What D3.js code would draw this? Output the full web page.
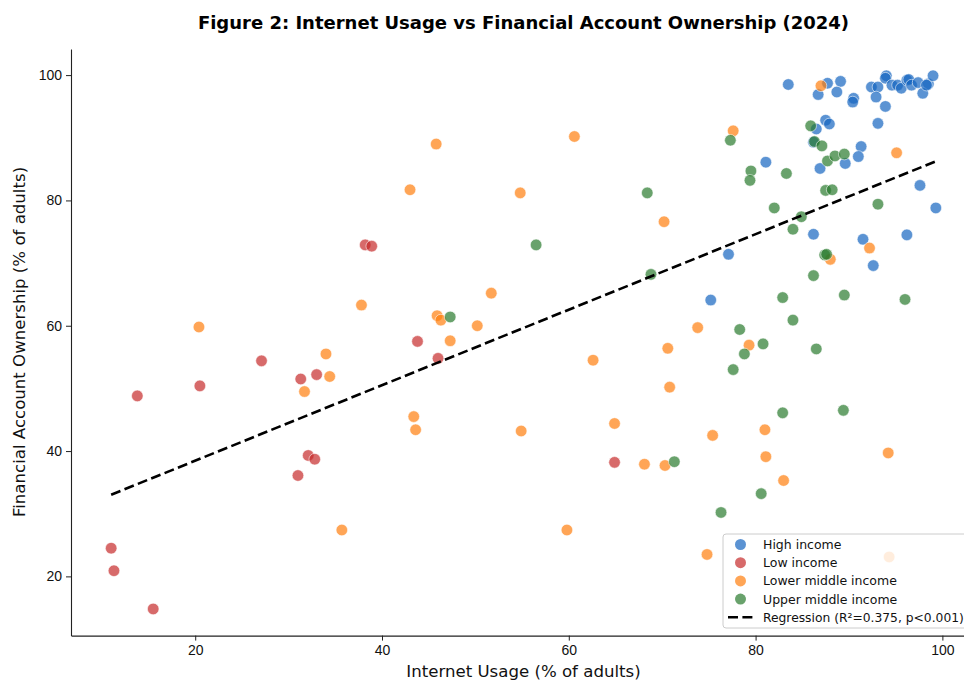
<!DOCTYPE html>
<html>
<head>
<meta charset="utf-8">
<script src="https://cdn.jsdelivr.net/npm/d3@7"></script>
<style>
  body { margin: 0; background: #fff; }
  svg { font-family: "DejaVu Sans", sans-serif; }
  .tick text { font-size: 14px; fill: #111; }
  .tick line, .domain { stroke: #222; }
</style>
</head>
<body>
<div id="chartArea"></div>
<script>
// data (internet usage %, account ownership %) per income group

const groups = ["High income", "Low income", "Lower middle income", "Upper middle income"];

const highIncome = [
  [75.2, 64.1], [81.1, 86.1], [77.1, 71.4], [86.2, 74.6], [91.5, 73.8], [92.6, 69.6],
  [96.2, 74.5], [97.6, 82.4], [99.3, 78.8], [91.3, 88.6], [91.0, 87.0], [89.6, 85.9],
  [86.9, 85.1], [93.1, 92.3], [87.5, 92.8], [87.9, 92.2], [86.5, 91.4], [86.2, 89.3],
  [83.5, 98.5], [87.7, 98.7], [89.1, 99.0], [86.7, 96.9], [88.7, 97.3], [90.5, 96.3],
  [90.4, 95.7], [92.4, 98.1], [93.1, 98.1], [92.9, 96.5], [93.9, 95.0], [94.0, 99.9],
  [93.9, 99.5], [94.6, 98.4], [95.2, 98.4], [95.6, 97.9], [96.2, 99.2], [96.4, 99.3],
  [96.7, 98.4], [97.4, 98.8], [98.5, 98.6], [97.9, 97.1], [99.0, 99.9], [98.3, 98.4]
];

const lowIncome = [
  [11.0, 24.5], [11.3, 20.9], [15.5, 14.8], [32.1, 39.3], [32.8, 38.7], [31.0, 36.1],
  [13.8, 48.8], [20.5, 50.4], [27.1, 54.4], [31.3, 51.5], [33.0, 52.2], [38.2, 72.9],
  [38.9, 72.7], [43.8, 57.5], [46.0, 54.8], [64.9, 38.2]
];

const lowerMiddleIncome = [
  [20.4, 59.8], [37.8, 63.3], [34.0, 55.5], [34.4, 51.9], [31.7, 49.5], [35.7, 27.4],
  [45.8, 89.0], [60.6, 90.2], [43.0, 81.7], [54.8, 81.2], [51.7, 65.2], [45.9, 61.6],
  [46.3, 60.9], [50.2, 60.0], [47.3, 57.6], [62.6, 54.5], [43.4, 45.5], [43.6, 43.4],
  [54.9, 43.2], [64.9, 44.4], [59.8, 27.4], [73.8, 59.7], [70.6, 56.4], [70.8, 50.2],
  [79.3, 56.9], [75.4, 42.5], [81.0, 43.4], [68.1, 37.9], [70.3, 37.7], [81.1, 39.1],
  [94.2, 39.7], [83.0, 35.3], [74.8, 23.5], [94.3, 23.1], [77.6, 91.1], [95.1, 87.6],
  [92.2, 72.4], [88.0, 70.6], [87.0, 98.3], [70.2, 76.6]
];

const upperMiddleIncome = [
  [56.5, 72.9], [47.3, 61.4], [71.3, 38.3], [80.6, 33.2], [76.3, 30.2], [68.4, 81.2],
  [68.8, 68.2], [82.9, 64.5], [89.5, 64.9], [96.0, 64.2], [84.0, 60.9], [78.3, 59.4],
  [80.8, 57.1], [78.8, 55.5], [86.5, 56.3], [77.6, 53.0], [82.9, 46.1], [89.4, 46.5],
  [77.3, 89.6], [79.5, 84.7], [79.4, 83.2], [83.3, 84.3], [85.9, 91.9], [86.3, 89.4],
  [87.1, 88.7], [87.7, 86.3], [88.5, 87.1], [89.5, 87.4], [87.5, 81.6], [88.2, 81.7],
  [82.0, 78.8], [84.0, 75.4], [84.9, 77.4], [93.1, 79.4], [87.4, 71.3], [87.6, 71.4],
  [86.2, 68.0]
];

const groupColors = ["#1565c0", "#c62b2b", "#ff7f0e", "#2a7a2e"];
const xTicks = [20, 40, 60, 80, 100];
const yTicks = [20, 40, 60, 80, 100];

// fitted line
const regSlope = 0.6026;
const regIntercept = 26.41;
const regRange = [11.0, 99.3];
const regressionLabel = "Regression (R\u00b2=0.375, p<0.001)";

// chart

const chart = {};
chart.width = 964;
chart.height = 680;

chart.svg = d3
  .select("#chartArea")
  .append("svg")
  .attr("width", chart.width)
  .attr("height", chart.height);

var x = d3.scaleLinear([6.7, 103.6], [71, 976]);
var y = d3.scaleLinear([10.55, 104.15], [635.6, 49.1]);

chart.svg
  .append("text")
  .attr("x", 523.5)
  .attr("y", 29)
  .attr("text-anchor", "middle")
  .style("font-size", "18px")
  .style("font-weight", "bold")
  .text("Figure 2: Internet Usage vs Financial Account Ownership (2024)");

chart.svg
  .append("g")
  .attr("transform", "translate(0," + y.range()[0] + ")")
  .call(d3.axisBottom(x).tickValues(xTicks).tickSize(5).tickSizeOuter(0).tickPadding(4));

chart.svg
  .append("g")
  .attr("transform", "translate(" + x.range()[0] + ",0)")
  .call(d3.axisLeft(y).tickValues(yTicks).tickSize(5).tickSizeOuter(0).tickPadding(4));

chart.svg.selectAll(".domain").attr("stroke-width", 1.1);

chart.svg
  .append("text")
  .attr("x", 523.5)
  .attr("y", 677)
  .attr("text-anchor", "middle")
  .style("font-size", "16.6px")
  .style("fill", "#111")
  .text("Internet Usage (% of adults)");

chart.svg
  .append("text")
  .attr("transform", "rotate(-90)")
  .attr("x", -342)
  .attr("y", 25)
  .attr("text-anchor", "middle")
  .style("font-size", "16.6px")
  .style("fill", "#111")
  .text("Financial Account Ownership (% of adults)");

// points

const allGroups = [highIncome, lowIncome, lowerMiddleIncome, upperMiddleIncome];

allGroups.forEach((pts, gi) => {
  chart.svg
    .append("g")
    .selectAll("circle")
    .data(pts)
    .join("circle")
    .attr("cx", (d) => x(d[0]))
    .attr("cy", (d) => y(d[1]))
    .attr("r", 5.8)
    .attr("fill", groupColors[gi])
    .attr("fill-opacity", 0.7)
    .attr("stroke", "#fff")
    .attr("stroke-width", 0.8)
    .attr("stroke-opacity", 0.7);
});

// regression line

chart.svg
  .append("line")
  .attr("x1", x(regRange[0]))
  .attr("y1", y(regIntercept + regSlope * regRange[0]))
  .attr("x2", x(regRange[1]))
  .attr("y2", y(regIntercept + regSlope * regRange[1]))
  .attr("stroke", "#000")
  .attr("stroke-width", 2.6)
  .attr("stroke-dasharray", "10,4.4");

// legend

const legend = chart.svg.append("g").attr("transform", "translate(723,534)");

legend
  .append("rect")
  .attr("width", 262)
  .attr("height", 94)
  .attr("rx", 3)
  .attr("fill", "#fff")
  .attr("fill-opacity", 0.8)
  .attr("stroke", "#ccc");

groups.forEach((g, i) => {
  legend
    .append("circle")
    .attr("cx", 17.5)
    .attr("cy", 10.5 + i * 18.2)
    .attr("r", 5.5)
    .attr("fill", groupColors[i])
    .attr("fill-opacity", 0.7);
  legend
    .append("text")
    .attr("x", 40)
    .attr("y", 15 + i * 18.2)
    .style("font-size", "12.5px")
    .style("fill", "#111")
    .text(g);
});

legend
  .append("line")
  .attr("x1", 5)
  .attr("x2", 30)
  .attr("y1", 83.3)
  .attr("y2", 83.3)
  .attr("stroke", "#000")
  .attr("stroke-width", 2.6)
  .attr("stroke-dasharray", "10,4.4");

legend
  .append("text")
  .attr("x", 40)
  .attr("y", 87.8)
  .style("font-size", "12.3px")
  .style("fill", "#111")
  .text(regressionLabel);
</script>
</body>
</html>
